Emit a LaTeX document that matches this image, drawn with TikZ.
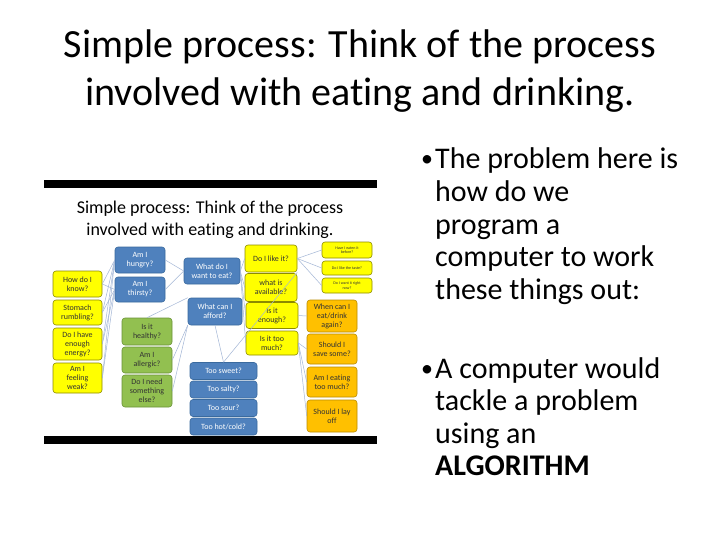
\documentclass[tikz,border=0pt]{standalone}
\usepackage{fontspec}
\setmainfont[Ligatures=NoCommon]{Carlito}
\definecolor{sablue}{HTML}{4F81BD}
\definecolor{sablueline}{HTML}{3A6A9E}
\definecolor{sayel}{HTML}{FFFF00}
\definecolor{sayelline}{HTML}{8C8A00}
\definecolor{sagreen}{HTML}{92C050}
\definecolor{sagreenline}{HTML}{6A9238}
\definecolor{saorange}{HTML}{FFC000}
\definecolor{saorangeline}{HTML}{B98B00}
\definecolor{conn}{HTML}{A3B6D6}
\definecolor{boxtext}{HTML}{333333}
\tikzset{
  sbox/.style={rounded corners=3pt, line width=0.6pt, inner sep=0pt, align=center,
     font=\fontsize{8}{9}\selectfont},
  bluebox/.style={sbox, fill=sablue, draw=sablueline, text=white},
  yelbox/.style={sbox, fill=sayel, draw=sayelline, text=boxtext},
  grnbox/.style={sbox, fill=sagreen, draw=sagreenline, text=boxtext},
  orgbox/.style={sbox, fill=saorange, draw=saorangeline, text=boxtext},
  tinybox/.style={yelbox, font=\fontsize{4}{4.6}\selectfont},
  link/.style={draw=conn, line width=0.5pt},
  titletext/.style={font=\fontsize{40}{48}\selectfont, text=black, inner sep=0pt, anchor=base},
  innertitle/.style={font=\fontsize{18}{22}\selectfont, text=black, inner sep=0pt, anchor=base},
  bullettext/.style={font=\fontsize{30}{33}\selectfont, text=black, inner sep=0pt, anchor=base west},
  bulletmark/.style={font=\fontsize{24}{33}\selectfont, text=black, inner sep=0pt, anchor=base west},
  bar/.style={fill=black, draw=none}
}
\begin{document}
\begin{tikzpicture}[x=1pt,y=-1pt]
\useasboundingbox (0,0) rectangle (720,540);
\fill[white] (0,0) rectangle (720,540);
% main title
\node[titletext] (t1) at (360,58) {Simple process: Think of the process};
\node[titletext] (t2) at (360,106) {involved with eating and drinking.};
% bullets
\node[bulletmark] (b1) at (421,167) {•};
\node[bullettext] (b1a) at (435,169) {The problem here is};
\node[bullettext] (b1b) at (435,201.5) {how do we};
\node[bullettext] (b1c) at (435,234) {program a};
\node[bullettext] (b1d) at (435,266.5) {computer to work};
\node[bullettext] (b1e) at (435,299) {these things out:};
\node[bulletmark] (b2) at (421,376) {•};
\node[bullettext] (b2a) at (435,378) {A computer would};
\node[bullettext] (b2b) at (435,410.5) {tackle a problem};
\node[bullettext] (b2c) at (435,443) {using an};
\node[bullettext] (b2d) at (435,475.5) {\textbf{ALGORITHM}};
% embedded picture frame bars
\fill[bar] (44,180) rectangle (377,188);
\fill[bar] (44,436) rectangle (377,444);
\node[innertitle] (it1) at (210,214) {Simple process: Think of the process};
\node[innertitle] (it2) at (210,236) {involved with eating and drinking.};
% blue boxes
\node[bluebox, minimum width=50pt, minimum height=26pt] (hungry) at (140,260) {Am I\\hungry?};
\node[bluebox, minimum width=50pt, minimum height=25pt] (thirsty) at (140,289.5) {Am I\\thirsty?};
\node[bluebox, minimum width=56pt, minimum height=26pt] (want) at (212,271) {What do I\\want to eat?};
\node[bluebox, minimum width=54pt, minimum height=27pt] (afford) at (215,311.5) {What can I\\afford?};
\node[bluebox, minimum width=67pt, minimum height=17pt] (sweet) at (223.5,371) {Too sweet?};
\node[bluebox, minimum width=67pt, minimum height=17pt] (salty) at (223.5,389.5) {Too salty?};
\node[bluebox, minimum width=67pt, minimum height=17pt] (sour) at (223.5,408) {Too sour?};
\node[bluebox, minimum width=67pt, minimum height=17pt] (hotcold) at (223.5,426.5) {Too hot/cold?};
% yellow left
\node[yelbox, minimum width=49pt, minimum height=26pt] (know) at (77.5,284) {How do I\\know?};
\node[yelbox, minimum width=49pt, minimum height=25pt] (stomach) at (77.5,312.5) {Stomach\\rumbling?};
\node[yelbox, minimum width=49pt, minimum height=32pt] (energy) at (77.5,344) {Do I have\\enough\\energy?};
\node[yelbox, minimum width=49pt, minimum height=30pt] (weak) at (77.5,378) {Am I\\feeling\\weak?};
% green
\node[grnbox, minimum width=50pt, minimum height=27pt] (healthy) at (147,331.5) {Is it\\healthy?};
\node[grnbox, minimum width=50pt, minimum height=26pt] (allergic) at (147,360) {Am I\\allergic?};
\node[grnbox, minimum width=50pt, minimum height=32pt] (something) at (147,391) {Do I need\\something\\else?};
% yellow middle
\node[yelbox, minimum width=52pt, minimum height=27pt] (like) at (271,258.5) {Do I like it?};
\node[yelbox, minimum width=52pt, minimum height=28pt] (available) at (271,287.5) {what is\\available?};
\node[yelbox, minimum width=52pt, minimum height=26pt] (enough) at (272,315.5) {Is it\\enough?};
\node[yelbox, minimum width=52pt, minimum height=24pt] (toomuch) at (272,343) {Is it too\\much?};
% orange
\node[orgbox, minimum width=50pt, minimum height=32pt] (when) at (332,316) {When can I\\eat/drink\\again?};
\node[orgbox, minimum width=50pt, minimum height=30pt] (save) at (332,349) {Should I\\save some?};
\node[orgbox, minimum width=50pt, minimum height=30pt] (eating) at (332,382) {Am I eating\\too much?};
\node[orgbox, minimum width=50pt, minimum height=32pt] (layoff) at (332,416) {Should I lay\\off};
% tiny yellow
\node[tinybox, minimum width=50pt, minimum height=16pt] (s1) at (347,250) {Have I eaten it\\before?};
\node[tinybox, minimum width=50pt, minimum height=14pt] (s2) at (347,268) {Do I like the taste?};
\node[tinybox, minimum width=50pt, minimum height=15pt] (s3) at (347,285.5) {Do I want it right\\now?};
% connectors
\foreach \y in {know,stomach,energy,weak}{
  \draw[link] (\y.east) -- (hungry.west);
  \draw[link] (\y.east) -- (thirsty.west);
}
\draw[link] (hungry.east) -- (want.west);
\draw[link] (thirsty.east) -- (want.west);
\foreach \m in {like,available,enough,toomuch}{
  \draw[link] (want.east) -- (\m.west);
}
\foreach \s in {s1,s2,s3}{
  \draw[link] (like.east) -- (\s.west);
}
\draw[link] (enough.east) -- (when.west);
\foreach \o in {save,eating,layoff}{
  \draw[link] (toomuch.east) -- (\o.west);
}
\draw[link] (afford.north west) -- (healthy.north);
\draw[link] (afford.south west) -- (allergic.east);
\draw[link] (afford.south west) -- (something.east);
\draw[link] (afford.south) -- (sweet.north);
\draw[link] (sweet.north) -- (like.south east);
\end{tikzpicture}
\end{document}
